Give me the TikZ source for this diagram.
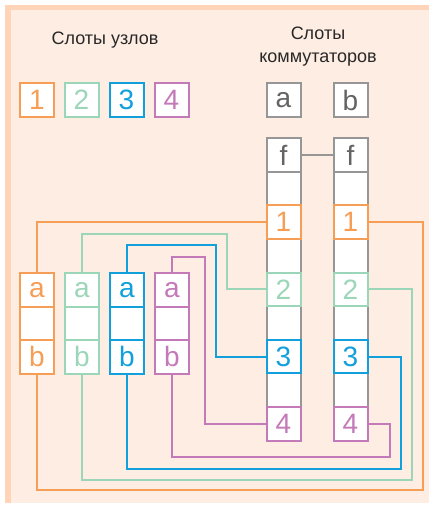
\documentclass[tikz,border=0pt]{standalone}
\usepackage{fontspec}
\setmainfont{Liberation Sans}
\definecolor{cOr}{RGB}{247,158,86}
\definecolor{cGr}{RGB}{156,214,184}
\definecolor{cBl}{RGB}{18,160,220}
\definecolor{cPu}{RGB}{196,122,184}
\definecolor{cGy}{RGB}{150,150,150}
\definecolor{cTx}{RGB}{100,100,100}
\definecolor{cBg}{RGB}{253,237,227}
\definecolor{cBand}{RGB}{255,212,184}
\definecolor{cTitle}{RGB}{40,40,40}
\tikzset{
  slotbox/.style={draw=#1, text=#1, fill=white, line width=2pt, minimum width=34pt, minimum height=33.6pt, inner sep=0pt, font=\fontsize{28}{28}\selectfont},
  graybox/.style={draw=cGy, text=cTx, fill=white, line width=2pt, minimum width=34pt, minimum height=33.6pt, inner sep=0pt, font=\fontsize{28}{28}\selectfont},
  wire/.style={draw=#1, line width=2pt},
  titletext/.style={text=cTitle, font=\fontsize{18}{23}\selectfont, align=center, inner sep=0pt}
}
\begin{document}
\begin{tikzpicture}[x=1pt,y=-1pt]
\useasboundingbox (0,0) rectangle (429,506);
% background
\fill[white] (0,0) rectangle (429,506);
\fill[cBand] (5,5) rectangle (429,503);
\fill[cBg] (11,10) rectangle (429,503);

% titles
\node[titletext, anchor=base] (t1) at (105,44) {Слоты узлов};
\node[titletext, anchor=base] (t2a) at (318,39.5) {Слоты};
\node[titletext, anchor=base] (t2b) at (318,62.5) {коммутаторов};

% legend
\node[slotbox=cOr] (l1) at (37,100) {1};
\node[slotbox=cGr] (l2) at (81.5,100) {2};
\node[slotbox=cBl] (l3) at (126.5,100) {3};
\node[slotbox=cPu] (l4) at (171.5,100) {4};
\node[graybox] (la) at (283.5,100) {a};
\node[graybox] (lb) at (350.5,100) {b};

% wire corners
\coordinate (g1) at (227,234);
\coordinate (b1) at (216,245);
\coordinate (p1) at (205,257);
\coordinate (o2) at (423,490);
\coordinate (g2) at (412,480);
\coordinate (b2) at (401,469);
\coordinate (p2) at (390,457);

% switch columns
\foreach \col/\x in {a/283.5, b/350.5}{
  \node[graybox] (s\col f) at (\x,155) {f};
  \node[graybox] (s\col e1) at (\x,188.6) {};
  \node[graybox] (s\col e2) at (\x,255.8) {};
  \node[graybox] (s\col e3) at (\x,323) {};
  \node[graybox] (s\col e4) at (\x,390.2) {};
  \node[slotbox=cOr] (s\col 1) at (\x,222.2) {1};
  \node[slotbox=cGr] (s\col 2) at (\x,289.4) {2};
  \node[slotbox=cBl] (s\col 3) at (\x,356.6) {3};
  \node[slotbox=cPu] (s\col 4) at (\x,423.8) {4};
}
\draw[wire=cGy] (saf.east) -- (sbf.west);

% node columns
\foreach \n/\x/\c in {1/37/cOr, 2/82/cGr, 3/127/cBl, 4/172/cPu}{
  \node[slotbox=\c] (n\n a) at (\x,290) {a};
  \node[slotbox=\c] (n\n e) at (\x,323.4) {};
  \node[slotbox=\c] (n\n b) at (\x,356.8) {b};
}

\draw[wire=cOr] (n1a.north) |- (sa1.west);
\draw[wire=cOr] (sb1.east) -| (o2) -| (n1b.south);
\draw[wire=cGr] (n2a.north) |- (g1) |- (sa2.west);
\draw[wire=cGr] (sb2.east) -| (g2) -| (n2b.south);
\draw[wire=cBl] (n3a.north) |- (b1) |- (sa3.west);
\draw[wire=cBl] (sb3.east) -| (b2) -| (n3b.south);
\draw[wire=cPu] (n4a.north) |- (p1) |- (sa4.west);
\draw[wire=cPu] (sb4.east) -| (p2) -| (n4b.south);
\end{tikzpicture}
\end{document}
